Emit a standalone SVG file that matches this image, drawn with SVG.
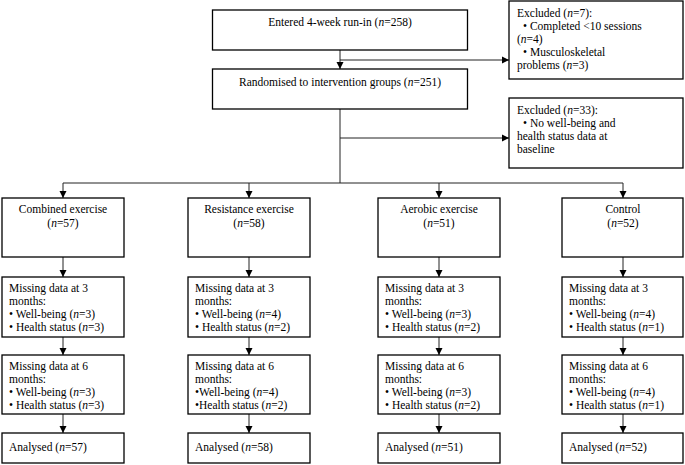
<svg xmlns="http://www.w3.org/2000/svg" width="685" height="465" viewBox="0 0 685 465" font-family="'Liberation Serif', 'Times New Roman', 'DejaVu Serif', serif">
<style>
.box{fill:#fff;stroke:#000;stroke-width:1.3}
text{font-family:'Liberation Serif','Times New Roman','DejaVu Serif',serif;font-size:11.5px;fill:#000}
.c{text-anchor:middle}
.i{font-style:italic}
.ln{fill:none;stroke:#222;stroke-width:1}
</style>
<defs>
<marker id="ar" markerWidth="8" markerHeight="8" refX="7" refY="4" orient="auto" markerUnits="userSpaceOnUse">
<path d="M0,0.5 L7,4 L0,7.5 z" fill="#000"/>
</marker>
</defs>
<rect width="685" height="465" fill="#fff"/>
<g id="connectors">
<line class="ln" x1="340" y1="50" x2="340" y2="69" marker-end="url(#ar)"/>
<line class="ln" x1="340" y1="60" x2="509" y2="60" marker-end="url(#ar)"/>
<line class="ln" x1="340" y1="109" x2="340" y2="183"/>
<line class="ln" x1="340" y1="138" x2="509" y2="138" marker-end="url(#ar)"/>
<line class="ln" x1="63" y1="183" x2="623" y2="183"/>
<line class="ln" x1="63" y1="183" x2="63" y2="198" marker-end="url(#ar)"/>
<line class="ln" x1="249" y1="183" x2="249" y2="198" marker-end="url(#ar)"/>
<line class="ln" x1="439" y1="183" x2="439" y2="198" marker-end="url(#ar)"/>
<line class="ln" x1="623" y1="183" x2="623" y2="198" marker-end="url(#ar)"/>
<line class="ln" x1="63" y1="257" x2="63" y2="277" marker-end="url(#ar)"/>
<line class="ln" x1="249" y1="257" x2="249" y2="277" marker-end="url(#ar)"/>
<line class="ln" x1="439" y1="257" x2="439" y2="277" marker-end="url(#ar)"/>
<line class="ln" x1="623" y1="257" x2="623" y2="277" marker-end="url(#ar)"/>
<line class="ln" x1="63" y1="337" x2="63" y2="355" marker-end="url(#ar)"/>
<line class="ln" x1="249" y1="337" x2="249" y2="355" marker-end="url(#ar)"/>
<line class="ln" x1="439" y1="337" x2="439" y2="355" marker-end="url(#ar)"/>
<line class="ln" x1="623" y1="337" x2="623" y2="355" marker-end="url(#ar)"/>
<line class="ln" x1="63" y1="414" x2="63" y2="433" marker-end="url(#ar)"/>
<line class="ln" x1="249" y1="414" x2="249" y2="433" marker-end="url(#ar)"/>
<line class="ln" x1="439" y1="414" x2="439" y2="433" marker-end="url(#ar)"/>
<line class="ln" x1="623" y1="414" x2="623" y2="433" marker-end="url(#ar)"/>
</g>
<g id="entered">
<rect class="box" x="212.5" y="10" width="255" height="40"/>
<text class="c" x="340" y="26">Entered 4-week run-in (<tspan class="i">n</tspan>=258)</text>
</g>
<g id="randomised">
<rect class="box" x="212.5" y="69" width="255" height="40"/>
<text class="c" x="340" y="86">Randomised to intervention groups (<tspan class="i">n</tspan>=251)</text>
</g>
<g id="excluded1">
<rect class="box" x="509" y="1" width="174" height="78"/>
<text x="517" y="17">Excluded (<tspan class="i">n</tspan>=7):</text>
<text x="523" y="30">• Completed &lt;10 sessions</text>
<text x="517" y="43">(<tspan class="i">n</tspan>=4)</text>
<text x="523" y="56">• Musculoskeletal</text>
<text x="517" y="69">problems (<tspan class="i">n</tspan>=3)</text>
</g>
<g id="excluded2">
<rect class="box" x="509" y="98" width="174" height="70"/>
<text x="517" y="114">Excluded (<tspan class="i">n</tspan>=33):</text>
<text x="523" y="127">• No well-being and</text>
<text x="517" y="140">health status data at</text>
<text x="517" y="153">baseline</text>
</g>
<g id="combined">
<rect class="box" x="2" y="198" width="122" height="59"/>
<text class="c" x="63" y="213">Combined exercise</text>
<text class="c" x="63" y="227">(<tspan class="i">n</tspan>=57)</text>
</g>
<g id="resistance">
<rect class="box" x="188" y="198" width="122" height="59"/>
<text class="c" x="249" y="213">Resistance exercise</text>
<text class="c" x="249" y="227">(<tspan class="i">n</tspan>=58)</text>
</g>
<g id="aerobic">
<rect class="box" x="378" y="198" width="122" height="59"/>
<text class="c" x="439" y="213">Aerobic exercise</text>
<text class="c" x="439" y="227">(<tspan class="i">n</tspan>=51)</text>
</g>
<g id="control">
<rect class="box" x="562" y="198" width="121" height="59"/>
<text class="c" x="623" y="213">Control</text>
<text class="c" x="623" y="227">(<tspan class="i">n</tspan>=52)</text>
</g>
<g id="m3-combined">
<rect class="box" x="2" y="277" width="122" height="60"/>
<text x="9" y="292">Missing data at 3</text>
<text x="9" y="305">months:</text>
<text x="9" y="318">• Well-being (<tspan class="i">n</tspan>=3)</text>
<text x="9" y="331">• Health status (<tspan class="i">n</tspan>=3)</text>
</g>
<g id="m3-resistance">
<rect class="box" x="188" y="277" width="122" height="60"/>
<text x="195" y="292">Missing data at 3</text>
<text x="195" y="305">months:</text>
<text x="195" y="318">• Well-being (<tspan class="i">n</tspan>=4)</text>
<text x="195" y="331">• Health status (<tspan class="i">n</tspan>=2)</text>
</g>
<g id="m3-aerobic">
<rect class="box" x="378" y="277" width="122" height="60"/>
<text x="385" y="292">Missing data at 3</text>
<text x="385" y="305">months:</text>
<text x="385" y="318">• Well-being (<tspan class="i">n</tspan>=3)</text>
<text x="385" y="331">• Health status (<tspan class="i">n</tspan>=2)</text>
</g>
<g id="m3-control">
<rect class="box" x="562" y="277" width="121" height="60"/>
<text x="569" y="292">Missing data at 3</text>
<text x="569" y="305">months:</text>
<text x="569" y="318">• Well-being (<tspan class="i">n</tspan>=4)</text>
<text x="569" y="331">• Health status (<tspan class="i">n</tspan>=1)</text>
</g>
<g id="m6-combined">
<rect class="box" x="2" y="355" width="122" height="59"/>
<text x="9" y="370">Missing data at 6</text>
<text x="9" y="383">months:</text>
<text x="9" y="396">• Well-being (<tspan class="i">n</tspan>=3)</text>
<text x="9" y="409">• Health status (<tspan class="i">n</tspan>=3)</text>
</g>
<g id="m6-resistance">
<rect class="box" x="188" y="355" width="122" height="59"/>
<text x="195" y="370">Missing data at 6</text>
<text x="195" y="383">months:</text>
<text x="195" y="396">•Well-being (<tspan class="i">n</tspan>=4)</text>
<text x="195" y="409">•Health status (<tspan class="i">n</tspan>=2)</text>
</g>
<g id="m6-aerobic">
<rect class="box" x="378" y="355" width="122" height="59"/>
<text x="385" y="370">Missing data at 6</text>
<text x="385" y="383">months:</text>
<text x="385" y="396">• Well-being (<tspan class="i">n</tspan>=3)</text>
<text x="385" y="409">• Health status (<tspan class="i">n</tspan>=2)</text>
</g>
<g id="m6-control">
<rect class="box" x="562" y="355" width="121" height="59"/>
<text x="569" y="370">Missing data at 6</text>
<text x="569" y="383">months:</text>
<text x="569" y="396">• Well-being (<tspan class="i">n</tspan>=4)</text>
<text x="569" y="409">• Health status (<tspan class="i">n</tspan>=1)</text>
</g>
<g id="an-combined">
<rect class="box" x="2" y="433" width="122" height="30"/>
<text x="9" y="451">Analysed (<tspan class="i">n</tspan>=57)</text>
</g>
<g id="an-resistance">
<rect class="box" x="188" y="433" width="122" height="30"/>
<text x="195" y="451">Analysed (<tspan class="i">n</tspan>=58)</text>
</g>
<g id="an-aerobic">
<rect class="box" x="378" y="433" width="122" height="30"/>
<text x="385" y="451">Analysed (<tspan class="i">n</tspan>=51)</text>
</g>
<g id="an-control">
<rect class="box" x="562" y="433" width="121" height="30"/>
<text x="569" y="451">Analysed (<tspan class="i">n</tspan>=52)</text>
</g>
</svg>
